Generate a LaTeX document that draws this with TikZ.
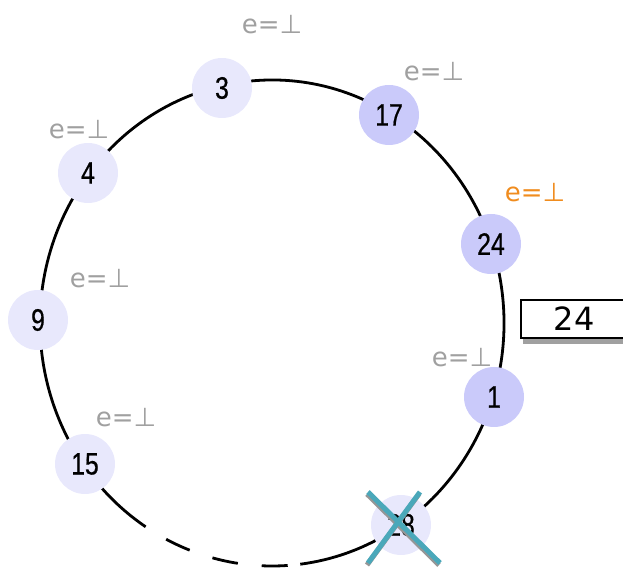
\documentclass[tikz,border=0pt]{standalone}
\usepackage{fontspec}
\setmainfont{DejaVu Sans}
\newfontfamily\numfont[FakeStretch=0.8, FakeBold=0.6]{Liberation Sans}
\usetikzlibrary{shadows}
\definecolor{ringlight}{RGB}{232,232,252}
\definecolor{ringdark}{RGB}{202,202,250}
\definecolor{labgray}{RGB}{160,160,160}
\definecolor{laborange}{RGB}{240,140,30}
\definecolor{crossteal}{RGB}{74,168,186}
\definecolor{crossgray}{RGB}{150,150,150}

\begin{document}
\begin{tikzpicture}[x=1pt, y=1pt,
    peer/.style={circle, inner sep=0pt, minimum size=60pt, font=\numfont\fontsize{31}{31}\selectfont},
    elabel/.style={text=labgray, inner sep=0pt, font=\fontsize{26}{26}\selectfont},
    ring/.style={line width=2.8pt}]
  \useasboundingbox (0,0) rectangle (623,569);
  \clip (0,0) rectangle (623,569);
  \coordinate (c) at (272,246);
  % ring
  \draw[ring] (c) ++(-83:232pt and 243pt) arc[start angle=-83, end angle=237, x radius=232pt, y radius=243pt];
  \draw[ring, dash pattern=on 26pt off 24pt, dash phase=26pt] (c) ++(237:232pt and 243pt) arc[start angle=237, end angle=277, x radius=232pt, y radius=243pt];
  % peers
  \node[peer, fill=ringlight] (n3) at (222,481) {3};
  \node[peer, fill=ringdark] (n17) at (389,454) {17};
  \node[peer, fill=ringdark] (n24) at (491,325) {24};
  \node[peer, fill=ringdark] (n1) at (494,172) {1};
  \node[peer, fill=ringlight] (n28) at (401,44) {28};
  \node[peer, fill=ringlight] (n15) at (85,105) {15};
  \node[peer, fill=ringlight] (n9) at (38,249) {9};
  \node[peer, fill=ringlight] (n4) at (88,396) {4};
  % entries
  \node[elabel] (l3) at (272,544) {e=⊥};
  \node[elabel] (l17) at (434,497) {e=⊥};
  \node[elabel, text=laborange] (l24) at (535,376) {e=⊥};
  \node[elabel] (l1) at (462,211) {e=⊥};
  \node[elabel] (l15) at (126,151) {e=⊥};
  \node[elabel] (l9) at (100,290) {e=⊥};
  \node[elabel] (l4) at (79,439) {e=⊥};
  % successor box
  \node[draw, fill=white, line width=1.5pt, anchor=west, minimum height=38pt, inner xsep=33pt,
    font=\fontsize{32}{32}\selectfont,
    drop shadow={shadow xshift=2pt, shadow yshift=-6pt, fill=labgray, opacity=1}] (succ) at (520,250) {24};
  % failed peer
  \draw[crossgray, line width=5pt] (367,75) -- (439,4);
  \draw[crossgray, line width=5pt] (419,75) -- (367,4);
  \draw[crossteal, line width=5pt] (368,77) -- (440,6);
  \draw[crossteal, line width=5pt] (420,77) -- (368,6);
\end{tikzpicture}
\end{document}
